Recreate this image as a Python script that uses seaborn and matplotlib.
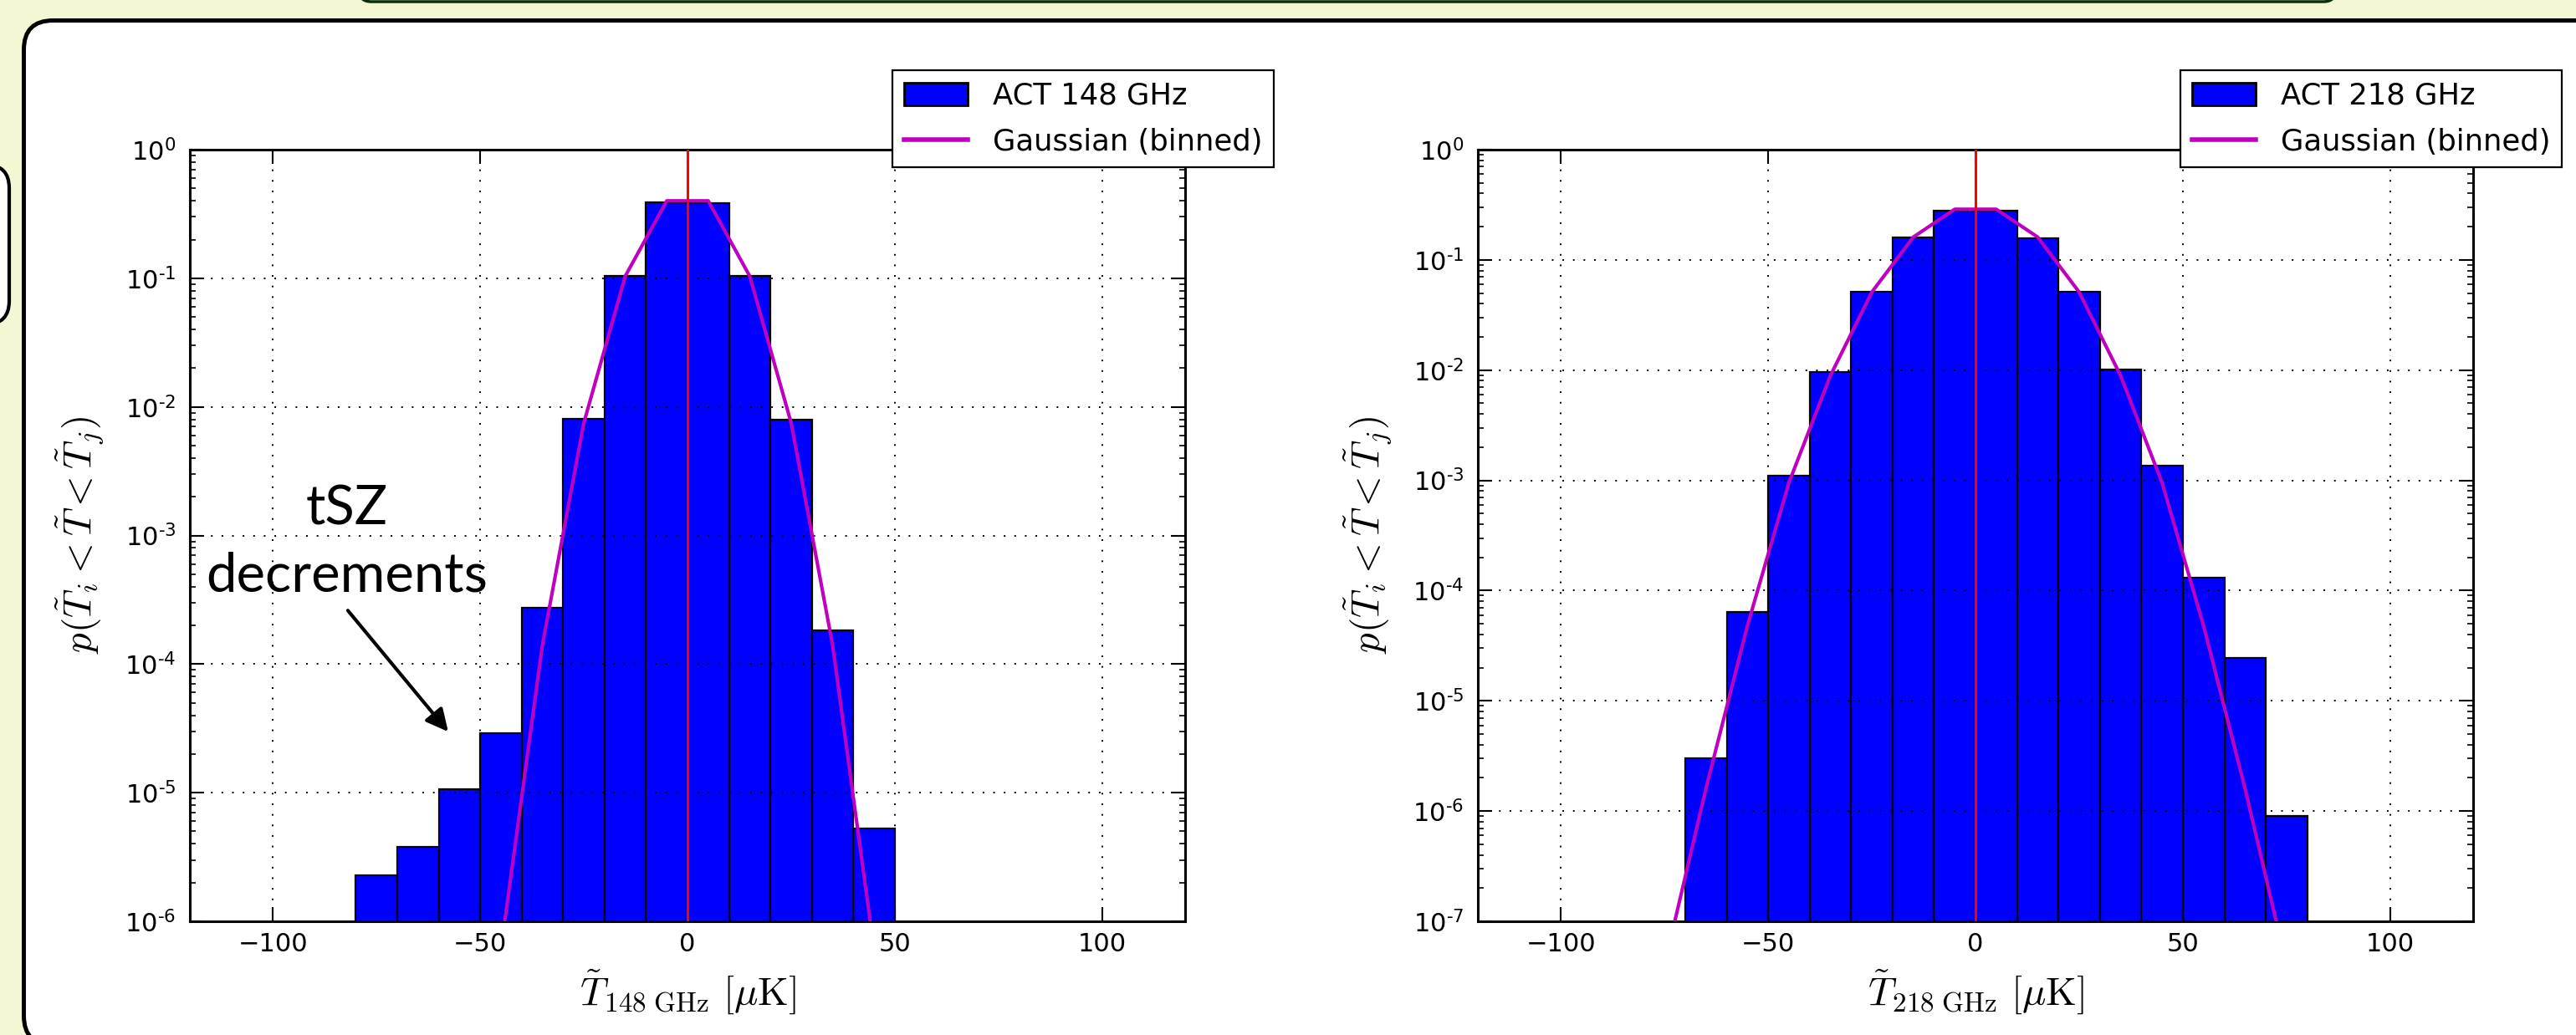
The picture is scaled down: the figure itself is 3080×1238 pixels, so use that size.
import numpy as np
import matplotlib
matplotlib.use("Agg")
import matplotlib.pyplot as plt
import seaborn as sns
from matplotlib.patches import FancyBboxPatch, Patch
from matplotlib.lines import Line2D
from matplotlib.font_manager import FontProperties
from matplotlib.ticker import FuncFormatter, NullFormatter, FixedLocator

# ---------------- data ----------------
edges_148 = [-80, -70, -60, -50, -40, -30, -20, -10, 0, 10, 20, 30, 40, 50]
counts_148 = [2.28e-6, 3.78e-6, 1.07e-5, 2.91e-5, 2.73e-4, 8.07e-3, 0.105,
              0.387, 0.385, 0.104, 7.92e-3, 1.82e-4, 5.26e-6]
gauss_x_148 = [-45, -35, -25, -15, -5, 5, 15, 25, 35, 45]
gauss_148 = [6.0e-7, 1.4e-4, 7.5e-3, 0.104, 0.40, 0.40, 0.104, 7.5e-3, 1.4e-4, 6.0e-7]

edges_218 = [-70, -60, -50, -40, -30, -20, -10, 0, 10, 20, 30, 40, 50, 60, 70, 80]
counts_218 = [3.01e-6, 6.38e-5, 1.10e-3, 9.66e-3, 0.0510, 0.161, 0.280, 0.279,
              0.157, 0.0510, 0.0102, 1.35e-3, 1.32e-4, 2.44e-5, 9.0e-7]
gauss_x_218 = [-75, -65, -55, -45, -35, -25, -15, -5, 5, 15, 25, 35, 45, 55, 65, 75]
gauss_218 = [4e-8, 1.6e-6, 4.8e-5, 9.5e-4, 8.9e-3, 0.051, 0.161, 0.288,
             0.288, 0.161, 0.051, 8.9e-3, 9.5e-4, 4.8e-5, 1.6e-6, 4e-8]

bar_labels = ["ACT 148 GHz", "ACT 218 GHz"]
line_label = "Gaussian (binned)"
xlabels = [r"$\tilde{T}_{148\ \mathrm{GHz}}\ [\mu\mathrm{K}]$",
           r"$\tilde{T}_{218\ \mathrm{GHz}}\ [\mu\mathrm{K}]$"]
ylabel = r"$p(\tilde{T}_i<\tilde{T}<\tilde{T}_j)$"
y_exponents = [list(range(-6, 1)), list(range(-7, 1))]
xticks = [-100, -50, 0, 50, 100]
center_value = 0.0
annot_lines = ["tSZ", "decrements"]

# ---------------- style ----------------
BG = "#f4f7d4"
BLUE = "#0000ff"
MAG = "#bf00bf"
plt.rcParams["mathtext.fontset"] = "dejavusans"
plt.rcParams["font.family"] = ["DejaVu Sans"]
plt.rcParams["axes.unicode_minus"] = True

W, H = 3080, 1238
fig = plt.figure(figsize=(W / 100, H / 100), dpi=100)
fig.patch.set_facecolor(BG)

def box(x0, y_top, x1, y_bot, r, lw, ec, fc):
    p = FancyBboxPatch((x0 / 100, (H - y_bot) / 100), (x1 - x0) / 100, (y_bot - y_top) / 100,
                       boxstyle=f"round,pad=0,rounding_size={r / 100}",
                       transform=fig.dpi_scale_trans, lw=lw, ec=ec, fc=fc, zorder=-5)
    fig.patches.append(p)

box(429, -100, 2793, 2, 15, 2.5, "#0d2e0d", BG)       # title box above (cut)
box(-100, 197, 11, 388, 28, 3.0, "black", "white")     # small box at left (cut)
box(28.5, 24.5, 3300, 1250, 35, 3.6, "black", "white")  # main panel

axes_px = [(227, 179, 1417, 1102), (1767, 179, 2957, 1102)]
datasets = [(edges_148, counts_148, gauss_x_148, gauss_148),
            (edges_218, counts_218, gauss_x_218, gauss_218)]

lab_fp = FontProperties(size=34, math_fontfamily="cm")

def yfmt(v, pos):
    e = int(round(np.log10(v)))
    return r"$10^{\text{%d}}$" % e

for i, ((l, t, r, b), (edges, counts, gx, gy)) in enumerate(zip(axes_px, datasets)):
    ax = fig.add_axes([l / W, (H - b) / H, (r - l) / W, (b - t) / H])
    ax.set_facecolor("white")
    centers = [(edges[k] + edges[k + 1]) / 2 for k in range(len(counts))]
    ax.set_yscale("log")
    sns.histplot(x=centers, weights=counts, bins=edges, ax=ax, color=BLUE,
                 edgecolor="black", linewidth=1.6, alpha=1, legend=False, zorder=2)
    sns.lineplot(x=gx, y=gy, ax=ax, color=MAG, lw=3.0, legend=False, zorder=3)
    ax.axvline(center_value, color="#ff0000", lw=2.2, zorder=4)

    exps = y_exponents[i]
    ax.set_xlim(-120, 120)
    ax.set_ylim(10.0 ** exps[0], 10.0 ** exps[-1])
    ax.xaxis.set_major_locator(FixedLocator(xticks))
    ax.yaxis.set_major_locator(FixedLocator([10.0 ** e for e in exps]))
    minors = [m * 10.0 ** e for e in exps[:-1] for m in range(2, 10)]
    ax.yaxis.set_minor_locator(FixedLocator(minors))
    ax.yaxis.set_major_formatter(FuncFormatter(yfmt))
    ax.yaxis.set_minor_formatter(NullFormatter())
    ax.tick_params(which="both", direction="in", top=True, right=True)
    ax.tick_params(which="major", length=12, width=1.5, labelsize=22)
    ax.tick_params(axis="y", which="major", pad=12)
    ax.tick_params(axis="x", which="major", pad=9)
    ax.tick_params(which="minor", length=5, width=1.2)
    for s in ax.spines.values():
        s.set_linewidth(2.2)
        s.set_color("black")
    ax.grid(True, which="major", color="black", lw=1.4, linestyle=(0, (1, 5.5)))
    ax.set_axisbelow(False)
    for gl in ax.get_xgridlines() + ax.get_ygridlines():
        gl.set_zorder(1.5)

    ax.set_xlabel(xlabels[i], fontproperties=lab_fp)
    ax.set_ylabel(ylabel, fontproperties=lab_fp)
    ax.xaxis.set_label_coords(0.5, -0.060)
    ax.xaxis.label.set_va("top")
    ax.yaxis.set_label_coords(-0.084, 0.5)

    handles = [Patch(facecolor=BLUE, edgecolor="black", lw=2.0),
               Line2D([], [], color=MAG, lw=4)]
    leg = ax.legend(handles, [bar_labels[i], line_label], loc="upper left",
                    bbox_to_anchor=(0.706, 1.103), borderaxespad=0, fontsize=25.5,
                    frameon=True, fancybox=False, framealpha=1, edgecolor="black",
                    handlelength=2.15, handleheight=0.8, handletextpad=0.85,
                    labelspacing=0.6, borderpad=0.38)
    leg.get_frame().set_linewidth(1.6)
    leg.set_zorder(10)

    if i == 0:
        ax.text(-82.1, 1.22e-3, annot_lines[0], ha="center", va="baseline",
                fontsize=47, family=["Lato", "DejaVu Sans"], zorder=6)
        ax.text(-82.1, 3.69e-4, annot_lines[1], ha="center", va="baseline",
                fontsize=47, family=["Lato", "DejaVu Sans"], zorder=6)
        ax.annotate("", xy=(-57.7, 2.98e-5), xytext=(-81.9, 2.61e-4),
                    arrowprops=dict(arrowstyle="-|>", lw=3, color="black",
                                    mutation_scale=40, shrinkA=0, shrinkB=0),
                    zorder=6)

fig.savefig("out.png", dpi=100, facecolor=fig.get_facecolor())
